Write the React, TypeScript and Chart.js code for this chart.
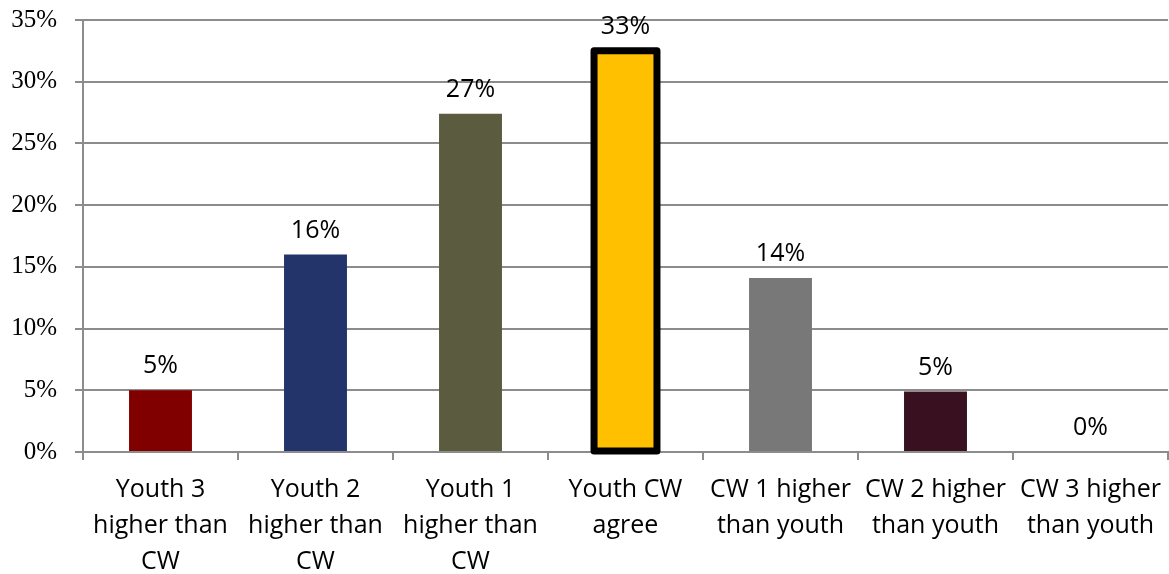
import React, { useEffect, useRef } from "react";
import { Chart, registerables } from "chart.js";

Chart.register(...registerables);

const categories: string[][] = [
  ["Youth 3", "higher than", "CW"],
  ["Youth 2", "higher than", "CW"],
  ["Youth 1", "higher than", "CW"],
  ["Youth CW", "agree"],
  ["CW 1 higher", "than youth"],
  ["CW 2 higher", "than youth"],
  ["CW 3 higher", "than youth"],
];
const values: number[] = [5.0, 16.0, 27.4, 32.5, 14.1, 4.9, 0];
const valueLabels: string[] = ["5%", "16%", "27%", "33%", "14%", "5%", "0%"];
const barColors: string[] = ["#800000", "#23346A", "#5B5B3F", "#FFC000", "#787878", "#381020", "#FFFFFF"];
const highlightIndex = 3;

const SANS = "'Open Sans', 'DejaVu Sans', sans-serif";
const SERIF = "'Liberation Serif', 'DejaVu Serif', serif";

const labelPlugin = {
  id: "valueLabels",
  afterDatasetsDraw(chart: any) {
    const ctx = chart.ctx;
    const meta = chart.getDatasetMeta(0);
    ctx.save();
    const hb = meta.data[highlightIndex];
    if (hb) {
      const p = hb.getProps(["x", "y", "base", "width"], true);
      ctx.lineWidth = 7;
      ctx.strokeStyle = "#000000";
      ctx.lineJoin = "round";
      ctx.strokeRect(p.x - p.width / 2, p.y, p.width, p.base - p.y);
    }
    ctx.fillStyle = "#000000";
    ctx.font = `25px ${SANS}`;
    ctx.textAlign = "center";
    ctx.textBaseline = "middle";
    meta.data.forEach((el: any, i: number) => {
      const p = el.getProps(["x", "y"], true);
      ctx.fillText(valueLabels[i], p.x, p.y - 24);
    });
    ctx.restore();
  },
};

export default function App() {
  const ref = useRef<HTMLCanvasElement | null>(null);
  useEffect(() => {
    if (!ref.current) return;
    const chart = new Chart(ref.current, {
      type: "bar",
      data: {
        labels: categories,
        datasets: [
          {
            data: values,
            backgroundColor: barColors,
            borderWidth: 0,
            barPercentage: 0.406,
            categoryPercentage: 1,
          },
        ],
      },
      options: {
        animation: false,
        responsive: false,
        maintainAspectRatio: false,
        layout: { padding: { top: 20, right: 1, left: 0, bottom: 0 } },
        plugins: { legend: { display: false }, tooltip: { enabled: false } },
        scales: {
          x: {
            offset: true,
            grid: {
              offset: true,
              drawOnChartArea: false,
              drawTicks: true,
              tickLength: 8,
              color: "#8C8C8C",
              lineWidth: 2,
            },
            border: { color: "#8C8C8C", width: 2 },
            ticks: {
              color: "#000000",
              font: { family: SANS, size: 25, lineHeight: 1.44 },
              padding: 12,
              maxRotation: 0,
              autoSkip: false,
            },
            afterFit(scale: any) {
              scale.height = 122;
              scale.paddingLeft = 0;
              scale.paddingRight = 0;
            },
          },
          y: {
            min: 0,
            max: 35,
            ticks: {
              stepSize: 5,
              color: "#000000",
              font: { family: SERIF, size: 25 },
              padding: 18,
              callback: (v: any) => `${v}%`,
            },
            grid: {
              color: "#8C8C8C",
              lineWidth: 2,
              tickLength: 8,
              drawTicks: true,
            },
            border: { color: "#8C8C8C", width: 2 },
            afterFit(scale: any) {
              scale.width = 83;
              scale.paddingTop = 0;
              scale.paddingBottom = 0;
            },
          },
        },
      },
      plugins: [labelPlugin],
    });
    return () => chart.destroy();
  }, []);
  return (
    <div style={{ position: "fixed", left: 0, top: 0, width: 1169, height: 574, background: "#fff" }}>
      <canvas ref={ref} width={1169} height={574} style={{ width: 1169, height: 574 }} />
    </div>
  );
}
